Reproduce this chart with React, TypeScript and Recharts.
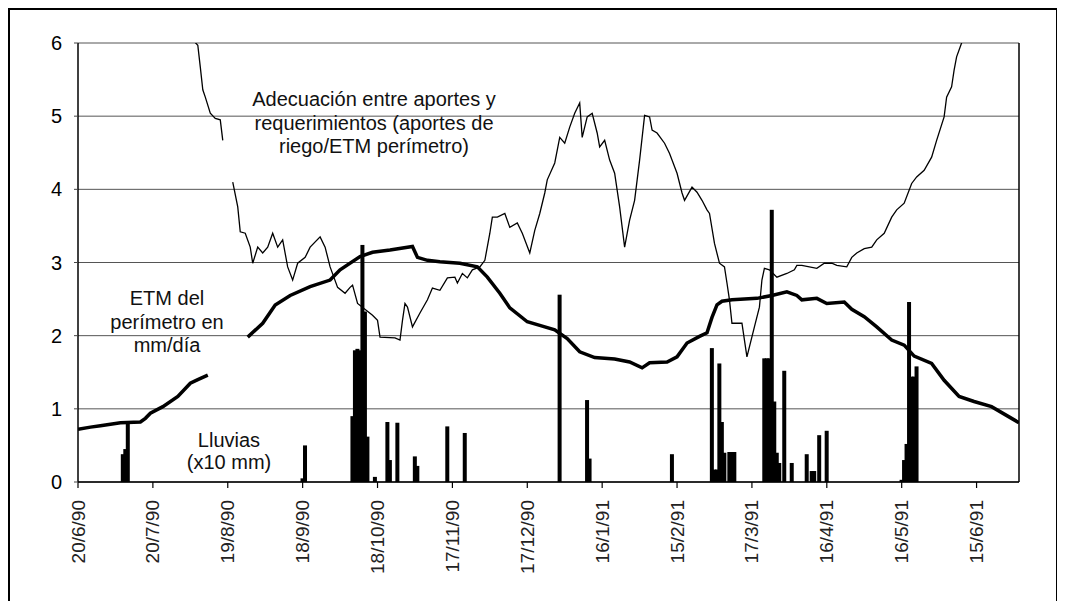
import React from "react";
import {
  ComposedChart,
  Line,
  Bar,
  XAxis,
  YAxis,
  CartesianGrid,
  ReferenceLine,
  Customized,
} from "recharts";

// ---- data (day index counted from 20/6/90) ----
const TICK_DAYS = [0, 30, 60, 90, 120, 150, 180, 210, 240, 270, 300, 330, 360];
const TICK_LABELS = [
  "20/6/90", "20/7/90", "19/8/90", "18/9/90", "18/10/90", "17/11/90", "17/12/90",
  "16/1/91", "15/2/91", "17/3/91", "16/4/91", "16/5/91", "15/6/91",
];
const Y_TICKS = [0, 1, 2, 3, 4, 5, 6];

// ETM del perímetro (mm/día)
const etmDays = [
  0, 5, 9, 13, 17, 25, 27, 29, 34, 40, 45, 48, 52, 60, 68, 74, 79, 85, 93, 101, 105, 113,
  118, 125, 134, 136, 140, 145, 153, 160, 164, 169, 173, 180, 185, 191, 196, 201, 207, 215,
  221, 226, 229, 236, 240, 244, 249, 252, 254, 256, 258, 262, 272, 278, 284, 288, 290, 296,
  300, 307, 310, 315, 320, 326, 331, 335, 342, 347, 353, 359, 366, 373, 377,
];
const etmValues = [
  0.72, 0.75, 0.77, 0.79, 0.81, 0.82, 0.87, 0.94, 1.03, 1.17, 1.35, 1.4, 1.46, null, 1.98,
  2.17, 2.42, 2.55, 2.67, 2.76, 2.9, 3.08, 3.14, 3.17, 3.22, 3.07, 3.03, 3.01, 2.99, 2.94,
  2.8, 2.58, 2.38, 2.19, 2.14, 2.08, 1.96, 1.78, 1.7, 1.68, 1.64, 1.56, 1.63, 1.64, 1.71,
  1.9, 1.99, 2.04, 2.25, 2.42, 2.47, 2.49, 2.51, 2.55, 2.6, 2.55, 2.49, 2.51, 2.44, 2.46,
  2.36, 2.26, 2.12, 1.94, 1.87, 1.72, 1.62, 1.39, 1.17, 1.1, 1.03, 0.89, 0.81,
];

// Adecuación aportes / requerimientos
const ratioDays = [
  46, 48, 49, 50, 51, 53, 55, 57, 58, 60, 62, 64, 65, 67, 69, 70, 72, 74, 76, 78, 80, 82,
  84, 86, 88, 91, 93, 97, 99, 101, 104, 107, 109, 110, 112, 118, 120, 121, 127, 129, 130,
  131, 132, 134, 137, 140, 142, 145, 148, 151, 152, 154, 156, 158, 161, 163, 165, 166, 168,
  171, 173, 176, 178, 181, 183, 185, 187, 188, 191, 193, 195, 197, 199, 201, 202, 204, 206,
  208, 209, 211, 213, 215, 217, 219, 221, 223, 225, 227, 229, 230, 232, 235, 237, 240, 242,
  243, 246, 248, 250, 252, 253, 255, 257, 259, 260, 261, 262, 266, 268, 271, 273, 274, 275,
  277, 280, 284, 287, 288, 290, 296, 299, 302, 304, 308, 310, 312, 315, 318, 320, 323, 326,
  328, 331, 334, 336, 339, 342, 344, 347, 348, 350, 351, 352, 354, 355,
];
const ratioValues = [
  6.04, 5.97, 5.67, 5.36, 5.26, 5.04, 4.97, 4.95, 4.67, null, 4.1, 3.76, 3.42, 3.4, 3.21,
  2.99, 3.21, 3.13, 3.21, 3.4, 3.21, 3.31, 2.94, 2.76, 2.99, 3.07, 3.21, 3.35, 3.21, 2.94,
  2.66, 2.58, 2.66, 2.69, 2.44, 2.28, 2.21, 1.98, 1.97, 1.94, 2.21, 2.44, 2.39, 2.12, 2.31,
  2.49, 2.65, 2.62, 2.79, 2.8, 2.72, 2.85, 2.79, 2.9, 2.94, 3.03, 3.4, 3.62, 3.62, 3.67,
  3.48, 3.54, 3.4, 3.13, 3.44, 3.67, 3.95, 4.13, 4.36, 4.71, 4.63, 4.85, 5.04, 5.18, 4.71,
  4.99, 5.04, 4.77, 4.58, 4.67, 4.4, 4.22, 3.76, 3.21, 3.58, 3.85, 4.4, 5.01, 4.99, 4.81,
  4.77, 4.63, 4.49, 4.22, 3.95, 3.85, 4.03, 3.96, 3.85, 3.72, 3.67, 3.26, 2.99, 2.94, 2.72,
  2.49, 2.17, 2.17, 1.71, 2.12, 2.39, 2.76, 2.92, 2.9, 2.8, 2.85, 2.9, 2.96, 2.96, 2.92,
  2.99, 2.99, 2.96, 2.94, 3.07, 3.13, 3.19, 3.21, 3.31, 3.4, 3.62, 3.72, 3.81, 4.08, 4.17,
  4.26, 4.44, 4.67, 4.99, 5.26, 5.4, 5.63, 5.81, 6.0, 6.1,
];

// Lluvias (x10 mm)
const rainDays = [
  18, 19, 20, 90, 91, 110, 111, 112, 113, 114, 115, 116, 119, 124, 125, 128, 135, 136, 148,
  155, 193, 204, 205, 238, 254, 255, 256, 257, 258, 259, 261, 262, 263, 275, 276, 277, 278,
  279, 280, 281, 283, 286, 292, 294, 295, 297, 300, 330, 331, 332, 333, 334, 335, 336,
];
const rainValues = [
  0.38, 0.45, 0.82, 0.05, 0.5, 0.9, 1.8, 1.82, 1.8, 3.24, 2.33, 0.62, 0.07, 0.82, 0.3, 0.81,
  0.35, 0.22, 0.76, 0.67, 2.56, 1.12, 0.32, 0.38, 1.83, 0.17, 0.17, 1.62, 0.82, 0.4, 0.41,
  0.41, 0.41, 1.69, 1.69, 1.69, 3.72, 1.1, 0.4, 0.26, 1.52, 0.26, 0.38, 0.15, 0.15, 0.64,
  0.7, 0.03, 0.3, 0.52, 2.46, 1.44, 1.44, 1.58,
];

const rainData = rainDays.map((d, i) => ({ day: d, rain: rainValues[i] }));
const etmData = etmDays.map((d, i) => ({ day: d, v: etmValues[i] }));
const ratioData = ratioDays.map((d, i) => ({ day: d, v: ratioValues[i] }));

const FONT = '"Liberation Sans", Arial, Helvetica, sans-serif';
const BAR_W = 4;

const DateTick = (props: any) => {
  const { x, y, payload } = props;
  const idx = TICK_DAYS.indexOf(payload.value);
  return (
    <text
      x={x}
      y={y}
      transform={`rotate(-90 ${x} ${y})`}
      textAnchor="end"
      dominantBaseline="central"
      fontSize={19}
      fontFamily={FONT}
      fill="#222"
    >
      {idx >= 0 ? TICK_LABELS[idx] : ""}
    </text>
  );
};

// Widen each day bar around the centre position that Recharts computes
const RainBar = (props: any) => {
  const { x, y, width, height } = props;
  if (height == null || height <= 0) return <g />;
  const cx = x + width / 2;
  return <rect x={cx - BAR_W / 2} y={y} width={BAR_W} height={height} fill="#000" />;
};

const Notes = () => (
  <g fontFamily={FONT} fontSize={20} fill="#111" textAnchor="middle">
    <text x={364} y={96}>Adecuación entre aportes y</text>
    <text x={364} y={119.5}>requerimientos (aportes de</text>
    <text x={364} y={143}>riego/ETM perímetro)</text>
    <text x={157} y={295}>ETM del</text>
    <text x={157} y={318.5}>perímetro en</text>
    <text x={157} y={342}>mm/día</text>
    <text x={219} y={437}>Lluvias</text>
    <text x={219} y={459}>(x10 mm)</text>
  </g>
);

export default function App() {
  return (
    <div
      style={{
        width: 1050,
        height: 593,
        boxSizing: "border-box",
        borderTop: "2px solid #000",
        borderLeft: "2px solid #000",
        borderRight: "2px solid #000",
        background: "#fff",
      }}
    >
      <ComposedChart
        width={1045}
        height={591}
        data={rainData}
        margin={{ top: 33, right: 36, left: 0, bottom: 0 }}
      >
        <CartesianGrid horizontal vertical={false} stroke="#555" strokeWidth={1} />
        <XAxis
          type="number"
          dataKey="day"
          domain={[0, 377]}
          ticks={TICK_DAYS}
          interval={0}
          allowDataOverflow
          tick={<DateTick />}
          tickSize={6}
          tickMargin={12}
          height={119}
          axisLine={{ stroke: "#000", strokeWidth: 1.5 }}
          tickLine={{ stroke: "#000", strokeWidth: 1.2 }}
        />
        <YAxis
          type="number"
          domain={[0, 6]}
          ticks={Y_TICKS}
          allowDataOverflow
          width={68}
          tickSize={4}
          tickMargin={12}
          axisLine={{ stroke: "#000", strokeWidth: 1.5 }}
          tickLine={{ stroke: "#444" }}
          tick={{ fontSize: 20, fill: "#000", fontFamily: FONT }}
        />
        <ReferenceLine x={377} stroke="#000" strokeWidth={1.5} />
        <Bar
          dataKey="rain"
          fill="#000"
          barSize={BAR_W}
          shape={<RainBar />}
          isAnimationActive={false}
        />
        <Line
          data={etmData}
          dataKey="v"
          type="linear"
          stroke="#000"
          strokeWidth={3.5}
          dot={false}
          activeDot={false}
          isAnimationActive={false}
        />
        <Line
          data={ratioData}
          dataKey="v"
          type="linear"
          stroke="#000"
          strokeWidth={1.3}
          dot={false}
          activeDot={false}
          isAnimationActive={false}
        />
        <Customized component={Notes} />
      </ComposedChart>
    </div>
  );
}
